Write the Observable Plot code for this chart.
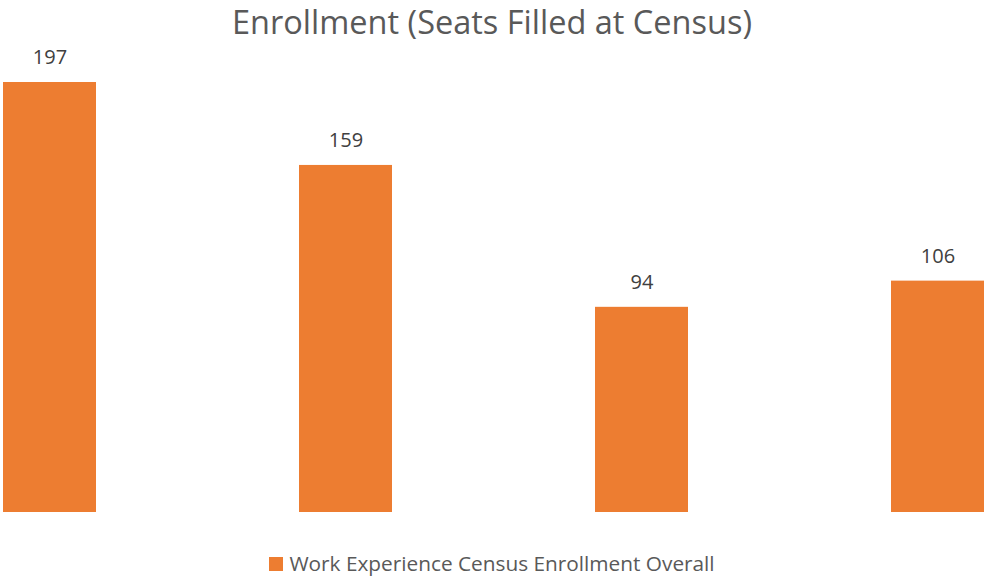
<!DOCTYPE html>
<html>
<head>
<meta charset="utf-8">
<script src="https://cdn.jsdelivr.net/npm/d3@7"></script>
<script src="https://cdn.jsdelivr.net/npm/@observablehq/plot@0.6"></script>
<style>
  html, body { margin: 0; padding: 0; background: #fff; }
  #wrap { position: relative; width: 984px; height: 579px; overflow: hidden; font-family: "Open Sans", "Noto Sans", sans-serif; }
  #title { position: absolute; left: 0; width: 984px; top: 0px; line-height: 44px; text-align: center; font-size: 32.5px; color: #595959; white-space: nowrap; }
  #legend { position: absolute; left: 0; width: 984px; top: 548px; line-height: 30px; text-align: center; font-size: 20.8px; color: #595959; white-space: nowrap; }
  #legend .sw { display: inline-block; width: 14px; height: 14px; background: #ED7D31; margin-right: 6px; vertical-align: 0px; }
  #chart { position: absolute; left: 0; top: 0; }
</style>
</head>
<body>
<div id="wrap">
  <div id="chart"></div>
  <div id="title">Enrollment (Seats Filled at Census)</div>
  <div id="legend"><span class="sw"></span>Work Experience Census Enrollment Overall</div>
</div>
<script>
const categories = ["A", "B", "C", "D"];
const values = [197, 159, 94, 106];
const seriesName = "Work Experience Census Enrollment Overall";

const data = categories.map((c, i) => ({category: c, value: values[i]}));

const chart = Plot.plot({
  width: 984,
  height: 579,
  margin: 0,
  x: {domain: categories, range: [-99.5, 1085.5], paddingInner: 0.686, paddingOuter: 0.343, axis: null},
  y: {domain: [0, 197], range: [512, 82], axis: null},
  style: {fontFamily: "'Open Sans', 'Noto Sans', sans-serif", background: "transparent"},
  marks: [
    Plot.barY(data, {x: "category", y: "value", fill: "#ED7D31"}),
    Plot.text(data, {x: "category", y: "value", text: d => String(d.value), dy: -25, fontSize: 20, fill: "#404040"})
  ]
});
document.getElementById("chart").appendChild(chart);
</script>
</body>
</html>
